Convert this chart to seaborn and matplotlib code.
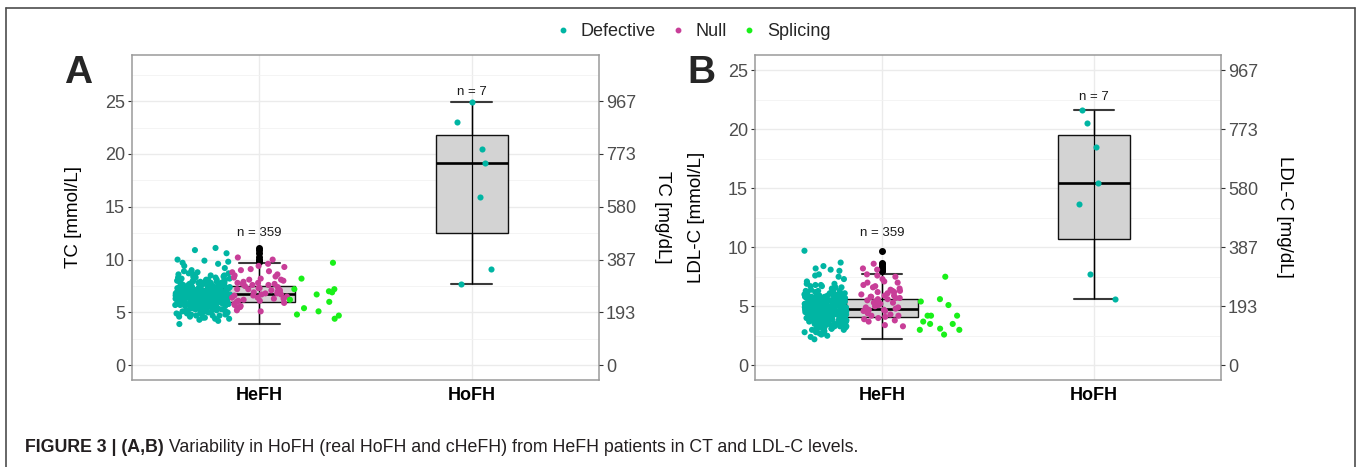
# -*- coding: utf-8 -*-
"""
Figure 3 (A,B): TC and LDL-C in HeFH vs HoFH patients, coloured by mutation type
"""

import pandas as pd
import numpy as np
import matplotlib
matplotlib.use('Agg')
import matplotlib.pyplot as plt
from matplotlib import cbook
from matplotlib.lines import Line2D
from matplotlib.ticker import MultipleLocator
import seaborn as sns

#------------------ data ------------------
groups = ['HeFH', 'HoFH']
mutations = ['Defective', 'Null', 'Splicing']
mutation_colors = ['#00B5A3', '#C83E98', '#19F019']

# Panel A - TC [mmol/L], HeFH (n = 359)
tc_hefh_defective = [
    3.9, 4.2, 4.3, 4.4, 4.4, 4.5, 4.5, 4.6, 4.6, 4.6, 4.7, 4.7, 4.7,
    4.8, 4.8, 4.8, 4.9, 4.9, 4.9, 4.9, 5.0, 5.0, 5.0,
    5.1, 5.1, 5.1, 5.1, 5.2, 5.2, 5.2, 5.2, 5.3, 5.3, 5.3, 5.3, 5.3,
    5.4, 5.4, 5.4, 5.4, 5.4, 5.5, 5.5, 5.5, 5.5, 5.5, 5.5,
    5.6, 5.6, 5.6, 5.6, 5.6, 5.6, 5.7, 5.7, 5.7, 5.7, 5.7, 5.7, 5.7,
    5.8, 5.8, 5.8, 5.8, 5.8, 5.8, 5.8, 5.9, 5.9, 5.9, 5.9, 5.9, 5.9, 5.9, 5.9,
    6.0, 6.0, 6.0, 6.0, 6.0, 6.0, 6.0, 6.0, 6.0,
    6.1, 6.1, 6.1, 6.1, 6.1, 6.1, 6.1, 6.1, 6.1, 6.1,
    6.2, 6.2, 6.2, 6.2, 6.2, 6.2, 6.2, 6.2, 6.2, 6.2, 6.2,
    6.3, 6.3, 6.3, 6.3, 6.3, 6.3, 6.3, 6.3, 6.3, 6.3, 6.3,
    6.4, 6.4, 6.4, 6.4, 6.4, 6.4, 6.4, 6.4, 6.4, 6.4, 6.4,
    6.5, 6.5, 6.5, 6.5, 6.5, 6.5, 6.5, 6.5, 6.5, 6.5, 6.5,
    6.6, 6.6, 6.6, 6.6, 6.6, 6.6, 6.6, 6.6, 6.6, 6.6, 6.6,
    6.7, 6.7, 6.7, 6.7, 6.7, 6.7, 6.7, 6.7, 6.7, 6.7, 6.7,
    6.8, 6.8, 6.8, 6.8, 6.8, 6.8, 6.8, 6.8, 6.8, 6.8,
    6.9, 6.9, 6.9, 6.9, 6.9, 6.9, 6.9, 6.9, 6.9, 6.9,
    7.0, 7.0, 7.0, 7.0, 7.0, 7.0, 7.0, 7.0, 7.0,
    7.1, 7.1, 7.1, 7.1, 7.1, 7.1, 7.1, 7.1, 7.1,
    7.2, 7.2, 7.2, 7.2, 7.2, 7.2, 7.2, 7.2, 7.2,
    7.3, 7.3, 7.3, 7.3, 7.3, 7.3, 7.3, 7.3,
    7.4, 7.4, 7.4, 7.4, 7.4, 7.4, 7.4, 7.4,
    7.5, 7.5, 7.5, 7.5, 7.5, 7.5, 7.6, 7.6, 7.6, 7.6, 7.6, 7.6, 7.6,
    7.7, 7.7, 7.7, 7.7, 7.7, 7.8, 7.8, 7.8, 7.8, 7.8, 7.9, 7.9, 7.9, 7.9,
    8.0, 8.0, 8.0, 8.0, 8.0, 8.1, 8.1, 8.1, 8.1, 8.2, 8.2, 8.2,
    8.3, 8.3, 8.3, 8.4, 8.4, 8.4, 8.5, 8.5, 8.6, 8.6, 8.7, 8.7, 8.8, 8.9,
    9.0, 9.2, 9.4, 9.6, 9.7, 9.8, 9.9, 10.0, 10.6, 10.9, 11.1,
]
tc_hefh_null = [
    5.1, 5.2, 5.4, 5.5, 5.6, 5.7, 5.8, 5.9, 6.0,
    6.1, 6.1, 6.2, 6.3, 6.3, 6.4, 6.4,
    6.5, 6.6, 6.6, 6.7, 6.7, 6.8, 6.8, 6.9,
    7.0, 7.0, 7.1, 7.1, 7.2, 7.2, 7.3, 7.3, 7.4,
    7.5, 7.6, 7.6, 7.7, 7.7, 7.8, 7.8, 7.9,
    8.0, 8.1, 8.1, 8.2, 8.3, 8.4, 8.5,
    8.6, 8.8, 8.9, 9.0, 9.1, 9.3, 9.4, 9.6, 10.0, 10.2,
]
tc_hefh_splicing = [4.4, 4.7, 4.8, 5.1, 5.4, 6.0, 6.2, 6.7, 6.9, 7.0, 7.2, 7.2, 8.2, 9.7]
# Panel A - TC [mmol/L], HoFH (n = 7)
tc_hofh_defective = [24.9, 23.0, 20.5, 19.1, 15.9, 9.1, 7.7]

# Panel B - LDL-C [mmol/L], HeFH (n = 359)
ldl_hefh_defective = [
    2.2, 2.4, 2.5, 2.6, 2.7, 2.7, 2.8, 2.8, 2.9, 2.9, 3.0, 3.0, 3.0,
    3.1, 3.1, 3.1, 3.2, 3.2, 3.2, 3.3, 3.3, 3.3, 3.3, 3.4, 3.4, 3.4, 3.4,
    3.5, 3.5, 3.5, 3.5, 3.5,
    3.6, 3.6, 3.6, 3.6, 3.6, 3.6, 3.7, 3.7, 3.7, 3.7, 3.7, 3.7, 3.7,
    3.8, 3.8, 3.8, 3.8, 3.8, 3.8, 3.8, 3.9, 3.9, 3.9, 3.9, 3.9, 3.9, 3.9, 3.9,
    4.0, 4.0, 4.0, 4.0, 4.0, 4.0, 4.0, 4.0, 4.0,
    4.1, 4.1, 4.1, 4.1, 4.1, 4.1, 4.1, 4.1, 4.1, 4.1,
    4.2, 4.2, 4.2, 4.2, 4.2, 4.2, 4.2, 4.2, 4.2, 4.2,
    4.3, 4.3, 4.3, 4.3, 4.3, 4.3, 4.3, 4.3, 4.3, 4.3,
    4.4, 4.4, 4.4, 4.4, 4.4, 4.4, 4.4, 4.4, 4.4, 4.4, 4.4,
    4.5, 4.5, 4.5, 4.5, 4.5, 4.5, 4.5, 4.5, 4.5, 4.5, 4.5,
    4.6, 4.6, 4.6, 4.6, 4.6, 4.6, 4.6, 4.6, 4.6, 4.6, 4.6,
    4.7, 4.7, 4.7, 4.7, 4.7, 4.7, 4.7, 4.7, 4.7, 4.7, 4.7,
    4.8, 4.8, 4.8, 4.8, 4.8, 4.8, 4.8, 4.8, 4.8, 4.8, 4.8,
    4.9, 4.9, 4.9, 4.9, 4.9, 4.9, 4.9, 4.9, 4.9, 4.9,
    5.0, 5.0, 5.0, 5.0, 5.0, 5.0, 5.0, 5.0, 5.0, 5.0,
    5.1, 5.1, 5.1, 5.1, 5.1, 5.1, 5.1, 5.1, 5.1, 5.1,
    5.2, 5.2, 5.2, 5.2, 5.2, 5.2, 5.2, 5.2, 5.2, 5.2,
    5.3, 5.3, 5.3, 5.3, 5.3, 5.3, 5.3, 5.3, 5.3, 5.3,
    5.4, 5.4, 5.4, 5.4, 5.4, 5.4, 5.4, 5.4, 5.4,
    5.5, 5.5, 5.5, 5.5, 5.5, 5.5, 5.5, 5.5, 5.5,
    5.6, 5.6, 5.6, 5.6, 5.6, 5.6, 5.6, 5.7, 5.7, 5.7, 5.7, 5.7, 5.7, 5.7,
    5.8, 5.8, 5.8, 5.8, 5.8, 5.8, 5.9, 5.9, 5.9, 5.9, 5.9, 5.9,
    6.0, 6.0, 6.0, 6.0, 6.0, 6.1, 6.1, 6.1, 6.1,
    6.2, 6.2, 6.2, 6.3, 6.3, 6.3, 6.4, 6.4, 6.5, 6.5,
    6.6, 6.6, 6.7, 6.7, 6.8, 6.8, 6.9, 6.9, 7.0,
    7.1, 7.3, 7.5, 7.6, 7.7, 8.0, 8.1, 8.2, 8.4, 8.7, 9.7,
]
ldl_hefh_null = [
    3.3, 3.4, 3.7, 3.8, 3.9, 4.0,
    4.1, 4.2, 4.2, 4.3, 4.4, 4.5,
    4.6, 4.6, 4.7, 4.7, 4.8, 4.9, 4.9, 5.0,
    5.1, 5.1, 5.2, 5.2, 5.3, 5.3, 5.4, 5.5, 5.5,
    5.6, 5.6, 5.7, 5.7, 5.8, 5.8, 5.9, 5.9, 6.0,
    6.1, 6.2, 6.2, 6.3, 6.3, 6.4, 6.5,
    6.6, 6.7, 6.8, 7.0, 7.0,
    7.1, 7.3, 7.5, 7.6, 7.7,
    8.1, 8.2, 8.6,
]
ldl_hefh_splicing = [2.6, 3.0, 3.0, 3.1, 3.5, 3.5, 3.7, 4.2, 4.2, 4.2, 5.1, 5.4, 5.6, 7.5]
# Panel B - LDL-C [mmol/L], HoFH (n = 7)
ldl_hofh_defective = [21.6, 20.5, 18.5, 15.4, 13.7, 7.7, 5.6]

# both y axes share the mmol/L positions, right axis is labelled in mg/dL
mmol_ticks = [0, 5, 10, 15, 20, 25]
mgdl_labels = ['0', '193', '387', '580', '773', '967']
n_labels = ['n = 359', 'n = 7']

caption_bold = 'FIGURE 3 | (A,B)'
caption_rest = ' Variability in HoFH (real HoFH and cHeFH) from HeFH patients in CT and LDL-C levels.'


#------------------ helpers ------------------
def build_frame(defective, null, splicing, hofh):
    parts = []
    for name, vals in zip(mutations, [defective, null, splicing]):
        parts.append(pd.DataFrame({'group': 'HeFH', 'mutation': name, 'value': vals}))
    parts.append(pd.DataFrame({'group': 'HoFH', 'mutation': 'Defective', 'value': hofh}))
    return pd.concat(parts, ignore_index=True)


def draw_panel(ax, df, ylim, left_title, right_title, letter, hefh_jitter, n_offsets):
    # box over all mutation types of a group
    sns.boxplot(data=df, x='group', y='value', order=groups, ax=ax,
                width=0.34, color='#D3D3D3', saturation=1, linecolor='#111111',
                linewidth=1.0, whis=1.5, capwidths=0.19,
                medianprops=dict(linewidth=1.9, color='black'),
                capprops=dict(color='#3A3A3A', linewidth=1.5),
                flierprops=dict(marker='o', markersize=4.0, markerfacecolor='black',
                                markeredgecolor='black'))
    # errorbar style whisker line running through the box
    for pos, grp in enumerate(groups):
        st = cbook.boxplot_stats(df.loc[df['group'] == grp, 'value'].to_numpy(), whis=1.5)[0]
        ax.vlines(pos, st['whislo'], st['whishi'], color='black', linewidth=0.9, zorder=2.5)

    hefh = df[df['group'] == 'HeFH']
    sns.stripplot(data=hefh, x='group', y='value', order=groups, hue='mutation',
                  hue_order=mutations, palette=mutation_colors, dodge=True,
                  jitter=hefh_jitter * len(mutations), size=4.4, linewidth=0,
                  legend=False, ax=ax, zorder=3)
    hofh = df[df['group'] == 'HoFH']
    sns.stripplot(data=hofh, x='group', y='value', order=groups, color=mutation_colors[0],
                  jitter=0.1, size=4.4, linewidth=0, ax=ax, zorder=3)

    # n = ... above each group
    for pos, grp in enumerate(groups):
        top = df.loc[df['group'] == grp, 'value'].max()
        ax.annotate(n_labels[pos], xy=(pos, top), xytext=(0, n_offsets[pos]),
                    textcoords='offset points', ha='center', va='baseline',
                    fontsize=9.5, color='#1A1A1A')

    ax.set_xlim(-0.6, 1.6)
    ax.set_ylim(ylim)
    ax.yaxis.set_major_locator(MultipleLocator(5))
    ax.yaxis.set_minor_locator(MultipleLocator(2.5))
    ax.grid(which='major', color='#EBEBEB', linewidth=1.0)
    ax.grid(which='minor', axis='y', color='#F2F2F2', linewidth=0.6)
    ax.set_axisbelow(True)
    ax.tick_params(which='minor', length=0)
    ax.tick_params(which='major', length=3, width=0.8, color='#333333',
                   labelsize=13, labelcolor='#4D4D4D', pad=2)
    ax.set_xlabel('')
    ax.set_ylabel(left_title, fontsize=13.5, color='black')
    ax.yaxis.set_label_coords(-0.108, 0.5)
    for lab in ax.get_xticklabels():
        lab.set_fontweight('bold')
        lab.set_color('black')
    for sp in ax.spines.values():
        sp.set_visible(True)
        sp.set_color('#9A9A9A')
        sp.set_linewidth(1.1)

    # secondary axis in mg/dL
    ax2 = ax.twinx()
    ax2.set_ylim(ax.get_ylim())
    ax2.set_yticks(mmol_ticks)
    ax2.set_yticklabels(mgdl_labels)
    ax2.tick_params(length=3, width=0.8, color='#333333', labelsize=13,
                    labelcolor='#4D4D4D', pad=2)
    ax2.grid(False)
    for sp in ax2.spines.values():
        sp.set_visible(False)
    ax2.set_ylabel(right_title, fontsize=13.5, color='black', rotation=-90, va='bottom')
    ax2.yaxis.set_label_coords(1.117, 0.5)

    ax.text(-0.146, 0.914, letter, transform=ax.transAxes, fontsize=28,
            fontweight='bold', ha='left', va='baseline')


#------------------ figure ------------------
sns.set_style('white')
plt.rcParams['font.family'] = ['Liberation Sans', 'DejaVu Sans']
np.random.seed(7)

tc_df = build_frame(tc_hefh_defective, tc_hefh_null, tc_hefh_splicing, tc_hofh_defective)
ldl_df = build_frame(ldl_hefh_defective, ldl_hefh_null, ldl_hefh_splicing, ldl_hofh_defective)

W, H = 1357, 467
fig = plt.figure(figsize=(W / 100, H / 100), dpi=100)
ax_a = fig.add_axes([132 / W, 1 - 380 / H, 467 / W, 325.3 / H])
ax_b = fig.add_axes([755 / W, 1 - 380 / H, 466 / W, 325.3 / H])

draw_panel(ax_a, tc_df, (-1.4, 29.4), 'TC [mmol/L]', 'TC [mg/dL]', 'A', 0.13, [8.6, 5.0])
draw_panel(ax_b, ldl_df, (-1.25, 26.31), 'LDL-C [mmol/L]', 'LDL-C [mg/dL]', 'B', 0.10, [10.4, 7.2])

# shared legend on top
handles = [Line2D([], [], marker='o', linestyle='', markersize=3.2,
                  markerfacecolor=c, markeredgecolor=c) for c in mutation_colors]
fig.legend(handles, mutations, loc='center', bbox_to_anchor=(692 / W, 1 - 32 / H),
           ncol=3, frameon=False, fontsize=13, handlelength=1.0, handletextpad=0.5,
           columnspacing=0.7, borderaxespad=0)

# frame around the figure
frame_kw = dict(color='#4D4D4D', linewidth=1.2, transform=fig.transFigure)
fig.add_artist(Line2D([6 / W, 6 / W], [0, 1 - 8 / H], **frame_kw))
fig.add_artist(Line2D([6 / W, 1355 / W], [1 - 8 / H, 1 - 8 / H], **frame_kw))
fig.add_artist(Line2D([1355 / W, 1355 / W], [0, 1 - 8 / H], **frame_kw))

# caption: bold lead-in followed by regular text
cap = fig.text(25 / W, 1 - 447.5 / H, caption_bold, fontsize=12.8, fontweight='bold',
               ha='left', va='center', color='#231F20')
fig.canvas.draw()
bb = cap.get_window_extent()
fig.text(bb.x1 / W, 1 - 447.5 / H, caption_rest, fontsize=12.8, ha='left', va='center',
         color='#231F20')

fig.savefig('out.png', dpi=100)
